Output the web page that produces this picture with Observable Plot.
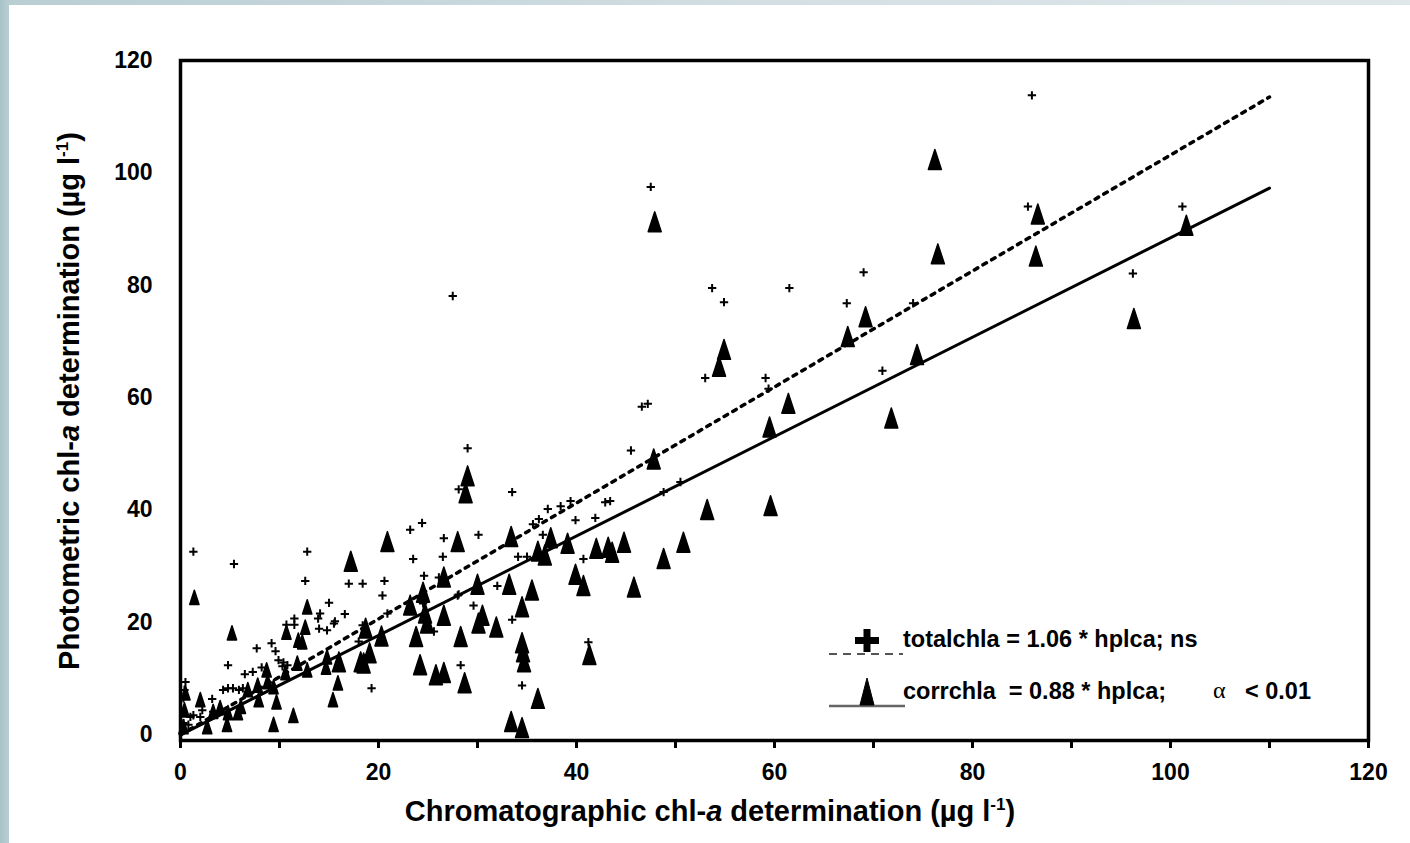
<!DOCTYPE html>
<html><head><meta charset="utf-8">
<script src="https://cdn.jsdelivr.net/npm/d3@7"></script>
<script src="https://cdn.jsdelivr.net/npm/@observablehq/plot@0.6"></script>
<style>
html,body{margin:0;padding:0;width:1410px;height:843px;overflow:hidden;}
body{background:linear-gradient(to right,#a9c3c8 0px,#b9ced3 9px,#d5e0e4 60%,#dfe7ea 100%);}
#panel{position:absolute;left:9px;top:5px;right:0;bottom:0;background:#fff;}
#chart{position:absolute;left:0;top:0;}
</style></head><body><div id="panel"></div><div id="chart"></div>
<script>
// totalchla (photometric, uncorrected) vs hplc chl-a  — crosses
const totalHplc = [86.0,47.5,27.5,101.2,85.6,96.2,53.7,61.5,54.9,69.0,67.3,53.0,59.1,70.9,74.0,59.4,46.6,47.2,45.5,29.0,
  28.1,33.5,48.8,50.5,42.9,43.4,37.1,39.9,41.9,36.2,35.6,23.2,24.4,26.6,30.1,23.5,26.5,34.1,35.0,36.6,
  40.7,24.6,28.1,32.0,26.1,17.0,18.4,20.6,20.4,15.0,14.1,29.6,33.5,25.6,18.0,28.3,34.5,19.3,28.0,24.5,
  18.4,20.9,1.3,5.4,12.8,12.6,7.7,9.2,4.8,10.7,11.5,11.5,13.9,15.5,0.5,6.5,3.2,9.9,10.3,9.6,
  4.3,4.8,5.3,5.9,6.3,1.0,1.3,0.3,0.8,2.0,2.2,3.3,0.3,10.4,10.8,41.2,38.4,39.4,0.4,14.0,
  14.8,7.3,8.2,15.6,16.6];
const totalPhoto = [113.8,97.5,78.1,94.0,94.0,82.1,79.5,79.5,77.0,82.3,76.8,63.5,63.5,64.8,76.8,61.6,58.4,58.9,50.6,51.0,
  43.7,43.2,43.2,45.0,41.4,41.6,40.2,38.2,38.6,38.4,37.5,36.5,37.7,35.0,35.6,31.3,31.7,31.7,31.7,35.6,
  31.3,28.3,25.0,26.5,28.0,26.9,26.9,27.4,24.8,23.5,21.6,23.0,20.5,18.4,16.6,12.4,8.8,8.3,24.8,23.4,
  19.5,21.6,32.6,30.4,32.6,27.4,15.4,16.3,12.4,19.6,20.7,19.6,20.7,19.8,9.4,10.8,6.4,13.3,12.2,14.9,
  8.0,8.3,8.3,8.0,8.3,3.2,3.5,2.1,1.8,3.2,4.4,4.1,6.5,12.9,12.4,16.5,40.7,41.6,8.0,18.9,
  18.6,11.2,12.0,20.2,21.5];

// corrchla (photometric, corrected) vs hplc chl-a — triangles
const corrHplc = [76.2,47.9,86.6,101.6,76.5,86.4,96.3,54.9,54.4,69.2,67.4,74.4,61.4,59.5,71.8,47.8,59.6,29.0,28.8,28.0,
  33.4,37.4,36.1,36.8,39.1,42.0,43.2,43.6,44.8,53.2,50.8,48.8,39.9,40.7,45.8,26.6,24.5,30.0,33.2,35.5,
  41.3,20.9,17.2,23.2,34.5,24.7,24.9,26.6,30.5,30.1,31.9,28.3,23.8,20.3,18.7,34.5,34.6,34.7,24.2,25.8,
  26.6,28.7,36.1,33.4,34.5,15.9,15.4,18.2,18.5,19.1,14.7,16.0,1.4,5.2,12.8,10.7,12.6,11.9,12.3,8.7,
  10.6,11.8,12.8,6.8,7.8,8.8,9.4,9.7,9.4,11.4,14.8,2.0,4.0,3.3,4.8,2.7,4.7,5.8,0.5,0.4,
  0.3,6.1,7.9];
const corrPhoto = [102.3,91.2,92.6,90.6,85.5,85.1,74.0,68.5,65.5,74.3,70.8,67.6,58.9,54.7,56.3,49.0,40.7,46.0,43.0,34.3,
  35.2,35.0,32.6,31.9,34.0,33.1,33.3,32.4,34.2,40.0,34.2,31.3,28.5,26.5,26.2,28.0,25.3,26.7,26.7,25.7,
  14.2,34.3,30.8,23.0,22.7,21.6,19.8,21.2,21.2,19.8,19.1,17.4,17.4,17.5,18.9,16.3,14.7,12.9,12.4,10.6,
  11.0,9.2,6.4,2.3,1.2,9.2,6.2,12.9,12.7,14.5,12.0,12.9,24.4,18.1,22.7,18.2,19.1,16.8,16.5,11.5,
  11.0,12.7,11.5,8.0,8.8,9.4,8.5,5.8,1.8,3.4,13.8,6.2,4.8,4.1,3.9,1.4,1.8,3.9,7.4,4.4,
  1.4,5.0,6.2];

// fitted regression lines (end points)
const fitHplc = [0, 110];
const fitTotal = [0, 113.5];
const fitCorr = [0, 97.3];

const xTicks = [0,10,20,30,40,50,60,70,80,90,100,110,120];
const yTicks = [0,20,40,60,80,100,120];

const total = totalHplc.map((x, i) => ({x, y: totalPhoto[i]}));
const corr = corrHplc.map((x, i) => ({x, y: corrPhoto[i]}));
const lineTotal = fitHplc.map((x, i) => ({x, y: fitTotal[i]}));
const lineCorr = fitHplc.map((x, i) => ({x, y: fitCorr[i]}));

// narrow cone-shaped triangle symbol
const cone = {
  draw(context, size) {
    const r = Math.sqrt(size / Math.PI);
    const w = 0.62 * r;
    context.moveTo(0, -r);
    context.lineTo(w, 0.9 * r);
    context.lineTo(-w, 0.9 * r);
    context.closePath();
  }
};

const chart = Plot.plot({
  width: 1410, height: 843,
  marginLeft: 180, marginRight: 42, marginTop: 60, marginBottom: 103,
  x: {domain: [0, 120]},
  y: {domain: [-1, 120]},
  style: {fontFamily: "'Liberation Sans', Arial, sans-serif", fontSize: "23px", fontWeight: "bold", color: "black", background: "transparent"},
  marks: [
    Plot.line(lineTotal, {x: "x", y: "y", stroke: "black", strokeWidth: 3.5, strokeDasharray: "4,6"}),
    Plot.line(lineCorr, {x: "x", y: "y", stroke: "black", strokeWidth: 3}),
    Plot.dot(corr, {x: "x", y: "y", filter: d => d.x < 16, symbol: cone, r: 7.5, fill: "black", stroke: "black", strokeWidth: 1.5, strokeLinejoin: "round"}),
    Plot.dot(corr, {x: "x", y: "y", filter: d => d.x >= 16, symbol: cone, r: 10.5, fill: "black", stroke: "black", strokeWidth: 1.5, strokeLinejoin: "round"}),
    Plot.dot(total, {x: "x", y: "y", symbol: "plus", r: 2.8, stroke: "black", strokeWidth: 2}),
    Plot.frame({stroke: "black", strokeWidth: 3.5}),
    Plot.axisX({ticks: xTicks, tickSize: 8, tickPadding: 15, strokeWidth: 3, tickFormat: d => d % 20 === 0 ? String(d) : "", label: null}),
    Plot.axisY({ticks: yTicks, tickSize: 0, tickPadding: 28, label: null})
  ]
});
document.getElementById("chart").appendChild(chart);

const svg = d3.select(chart);
const title = (sel, parts) => {
  parts.forEach(p => {
    const t = sel.append("tspan").text(p.t);
    if (p.i) t.attr("font-style", "italic");
    if (p.sup) t.attr("dy", -11).attr("font-size", "17px");
    if (p.down) t.attr("dy", 11);
  });
};
const xt = svg.append("text").attr("x", 710).attr("y", 821).attr("text-anchor", "middle")
  .attr("font-size", "29px").attr("font-weight", "bold").attr("fill", "black");
title(xt, [{t: "Chromatographic chl-"}, {t: "a", i: true}, {t: " determination (µg l"}, {t: "-1", sup: true}, {t: ")", down: true}]);
const yt = svg.append("text").attr("transform", "translate(79,401) rotate(-90)").attr("text-anchor", "middle")
  .attr("font-size", "29px").attr("font-weight", "bold").attr("fill", "black");
title(yt, [{t: "Photometric chl-"}, {t: "a", i: true}, {t: " determination (µg l"}, {t: "-1", sup: true}, {t: ")", down: true}]);

// legend
const lg = svg.append("g").attr("text-anchor", "start");
lg.append("line").attr("x1", 829).attr("x2", 903).attr("y1", 654).attr("y2", 654)
  .attr("stroke", "#555").attr("stroke-width", 2).attr("stroke-dasharray", "8,6");
lg.append("path").attr("d", "M855,637h24v7h-24z M863.5,629h7v23h-7z").attr("fill", "black");
lg.append("line").attr("x1", 829).attr("x2", 905).attr("y1", 706).attr("y2", 706)
  .attr("stroke", "#666").attr("stroke-width", 2.5);
lg.append("path").attr("d", "M867,678L874,705L860,705Z").attr("fill", "black").attr("stroke", "black").attr("stroke-linejoin", "round");
lg.append("text").attr("x", 903).attr("y", 647).attr("font-size", "23.5px").attr("font-weight", "bold").text("totalchla = 1.06 * hplca; ns");
lg.append("text").attr("x", 903).attr("y", 699).attr("font-size", "23.5px").attr("font-weight", "bold")
  .style("white-space", "pre").text("corrchla  = 0.88 * hplca;");
lg.append("text").attr("x", 1213).attr("y", 698).attr("font-size", "24px").attr("font-weight", "normal")
  .attr("font-family", "'Liberation Serif', 'DejaVu Serif', serif").text("α");
lg.append("text").attr("x", 1245).attr("y", 699).attr("font-size", "23.5px").attr("font-weight", "bold").text("< 0.01");
</script>
</body></html>
